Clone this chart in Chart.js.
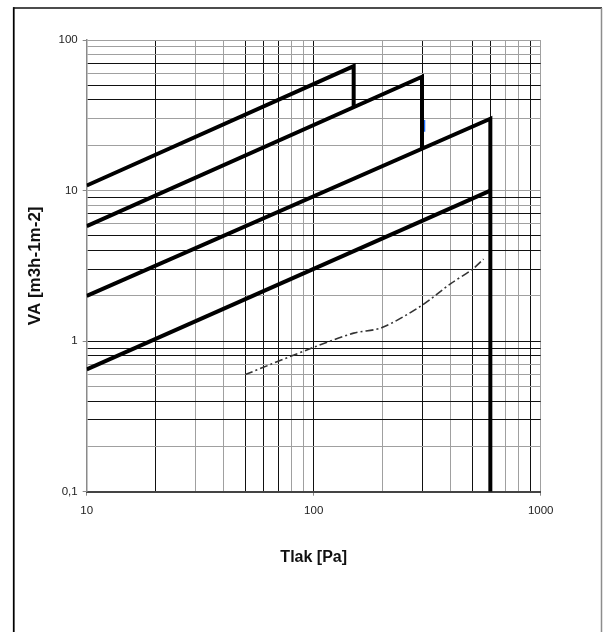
<!DOCTYPE html>
<html>
<head>
<meta charset="utf-8">
<script src="https://cdn.jsdelivr.net/npm/chart.js@4/dist/chart.umd.min.js"></script>
<style>
  html, body { margin: 0; padding: 0; background: #fff; overflow: hidden; }
  canvas { display: block; }
</style>
</head>
<body>
<canvas id="chart" width="603" height="632"></canvas>
<script>
// Air flow per unit area versus pressure difference (log-log)
const classAPressure = [10, 150, 150];
const classAFlow = [10.8, 67, 36];
const classBPressure = [10, 300, 300];
const classBFlow = [5.8, 57, 18.9];
const classCPressure = [10, 600, 600];
const classCFlow = [2, 30, 0.1];
const classDPressure = [10, 600];
const classDFlow = [0.65, 10];
const measuredPressure = [50, 100, 150, 200, 300, 400, 500, 560];
const measuredFlow = [0.6, 0.91, 1.13, 1.23, 1.73, 2.4, 3.0, 3.5];
const markerPressure = [307, 307];
const markerFlow = [29.4, 24.6];

const xTicks = [10, 20, 30, 40, 50, 60, 70, 80, 90, 100, 200, 300, 400, 500, 600, 700, 800, 900, 1000];
const yTicks = [0.1, 0.2, 0.3, 0.4, 0.5, 0.6, 0.7, 0.8, 0.9, 1, 2, 3, 4, 5, 6, 7, 8, 9, 10, 20, 30, 40, 50, 60, 70, 80, 90, 100];
const xTickLabels = { 10: '10', 100: '100', 1000: '1000' };
const yTickLabels = { 0.1: '0,1', 1: '1', 10: '10', 100: '100' };

// grid lines drawn darker than the rest
const darkGridX = [20, 50, 60, 70, 100, 300, 500, 600, 900];
const darkGridY = [0.3, 0.4, 0.8, 0.9, 1, 3, 4, 5, 7, 9, 40, 50, 70];

const toPoints = (xs, ys) => xs.map((x, i) => ({ x: x, y: ys[i] }));
const near = (list, v) => list.some(d => Math.abs(d - v) < 1e-9 * Math.max(1, v));

const thick = (xs, ys) => ({
  data: toPoints(xs, ys),
  borderColor: '#000',
  borderWidth: 4,
  borderJoinStyle: 'miter',
  borderCapStyle: 'butt',
  pointRadius: 0,
  tension: 0,
  showLine: true
});

const frame = {
  id: 'frame',
  beforeDraw(chart) {
    const ctx = chart.ctx;
    ctx.save();
    ctx.fillStyle = '#fff';
    ctx.fillRect(0, 0, chart.width, chart.height);
    ctx.restore();
  },
  afterDraw(chart) {
    const ctx = chart.ctx;
    ctx.save();
    ctx.strokeStyle = '#000';
    ctx.lineWidth = 1.75;
    ctx.beginPath();
    ctx.moveTo(13.75, 7.25);
    ctx.lineTo(13.75, chart.height);
    ctx.stroke();
    ctx.lineWidth = 1.5;
    ctx.strokeStyle = '#111';
    ctx.beginPath();
    ctx.moveTo(13, 8);
    ctx.lineTo(602, 8);
    ctx.stroke();
    ctx.strokeStyle = '#8c8c8c';
    ctx.beginPath();
    ctx.moveTo(601.5, 8);
    ctx.lineTo(601.5, chart.height);
    ctx.stroke();
    ctx.restore();
  }
};

const tickFont = { family: "'Liberation Sans', Arial, sans-serif", size: 11.5 };
const xTitleFont = { family: "'Liberation Sans', Arial, sans-serif", size: 16, weight: 'bold' };
const yTitleFont = { family: "'Liberation Sans', Arial, sans-serif", size: 17, weight: 'bold' };

new Chart(document.getElementById('chart'), {
  type: 'scatter',
  data: {
    datasets: [
      thick(classAPressure, classAFlow),
      thick(classBPressure, classBFlow),
      thick(classCPressure, classCFlow),
      thick(classDPressure, classDFlow),
      {
        data: toPoints(measuredPressure, measuredFlow),
        borderColor: '#333',
        borderWidth: 1.6,
        borderDash: [8, 3, 2, 3],
        pointRadius: 0,
        tension: 0.3,
        showLine: true
      },
      {
        data: toPoints(markerPressure, markerFlow),
        borderColor: '#1f6fff',
        borderWidth: 2,
        pointRadius: 0,
        showLine: true
      }
    ]
  },
  options: {
    responsive: false,
    animation: false,
    devicePixelRatio: 1,
    layout: { padding: { left: 14, top: 40, right: 62.3, bottom: 0 } },
    plugins: { legend: { display: false }, tooltip: { enabled: false } },
    scales: {
      x: {
        type: 'logarithmic',
        min: 10,
        max: 1000,
        afterBuildTicks: (axis) => { axis.ticks = xTicks.map(v => ({ value: v })); },
        afterFit: (axis) => { axis.height = 632 - 491.7; },
        ticks: {
          autoSkip: false,
          maxRotation: 0,
          minRotation: 0,
          padding: 8,
          color: '#222',
          font: tickFont,
          callback: (v) => xTickLabels[v] ?? ''
        },
        grid: {
          color: (c) => near(darkGridX, c.tick.value) ? '#111' : '#a0a0a0',
          lineWidth: 1,
          tickLength: 4,
          tickColor: (c) => xTickLabels[c.tick.value] ? '#888' : 'rgba(0,0,0,0)'
        },
        border: { color: '#444', width: 2 },
        title: {
          display: true,
          text: 'Tlak [Pa]',
          color: '#111',
          font: xTitleFont,
          padding: { top: 0, bottom: 64.4 }
        }
      },
      y: {
        type: 'logarithmic',
        min: 0.1,
        max: 100,
        afterBuildTicks: (axis) => { axis.ticks = yTicks.map(v => ({ value: v })); },
        afterFit: (axis) => { axis.width = 72.7; },
        ticks: {
          autoSkip: false,
          padding: 5,
          color: '#222',
          font: tickFont,
          callback: (v) => yTickLabels[v] ?? ''
        },
        grid: {
          color: (c) => near(darkGridY, c.tick.value) ? '#111' : '#a0a0a0',
          lineWidth: 1,
          tickLength: 4,
          tickColor: (c) => yTickLabels[c.tick.value] ? '#888' : 'rgba(0,0,0,0)'
        },
        border: { color: '#8a8a8a', width: 1.5 },
        title: {
          display: true,
          text: 'VA [m3h-1m-2]',
          color: '#111',
          font: yTitleFont,
          padding: { top: 11.3, bottom: 0 }
        }
      }
    }
  },
  plugins: [frame]
});
</script>
</body>
</html>
